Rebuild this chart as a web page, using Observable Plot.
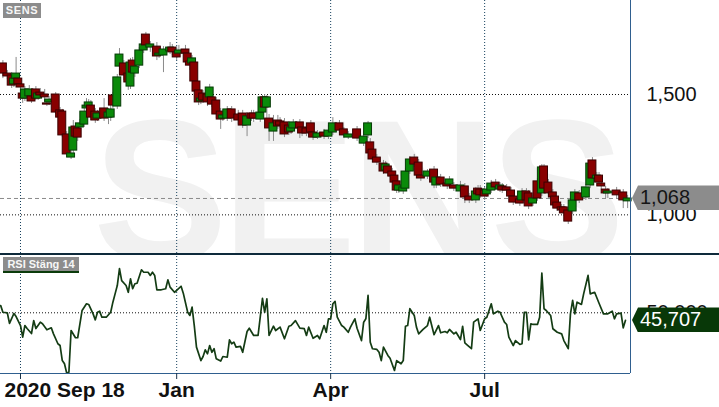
<!DOCTYPE html>
<html>
<head>
<meta charset="utf-8">
<script src="https://cdn.jsdelivr.net/npm/d3@7"></script>
<script src="https://cdn.jsdelivr.net/npm/@observablehq/plot@0.6"></script>
<style>
  html, body { margin: 0; padding: 0; background: #fff; }
  #wrap { position: relative; width: 719px; height: 407px; overflow: hidden; font-family: "Liberation Sans", Arial, sans-serif; }
  #topbox { position: absolute; left: 0; top: 0; width: 719px; height: 253px; overflow: hidden; }
  #wm { position: absolute; left: 93px; top: 90px; font-size: 202px; line-height: 202px; font-weight: bold; color: #f1f1f1; letter-spacing: -6px; white-space: nowrap; font-family: "Liberation Sans", Arial, sans-serif; }
  #topplot { position: absolute; left: 0; top: 0; }
  #sep { position: absolute; left: 0; top: 253px; width: 719px; height: 2px; background: #0e2a3b; }
  #botbox { position: absolute; left: 0; top: 255px; width: 719px; height: 152px; }
  .tag { position: absolute; background: #8c8c8c; color: #f6f6f6; font-weight: bold; font-size: 11px; text-align: center; box-sizing: border-box; }
  .val { position: absolute; left: 632px; width: 87px; height: 25px; line-height: 25px; font-size: 20px; padding-left: 8px; box-sizing: border-box;
         clip-path: polygon(0 50%, 6px 0, 100% 0, 100% 100%, 6px 100%); }
</style>
</head>
<body>
<div id="wrap">
  <div id="topbox"><div id="wm">SENS</div><div id="topplot"></div></div>
  <div id="sep"></div>
  <div id="botbox"></div>
</div>
<script>
// ---------- data (trading-day index relative to 2020-09-18) ----------
const days = [-8,-6,-4,-3,-2,-1,0,1,2,4, 5,7,8,9,11,12,13,16,18,19, 21,23,24,25,26,27,29,30,31,32, 34,35,38,40,41,42,44,45,47,49,
  50,51,52,54,56,57,59,62,63,65, 68,69,71,72,75,76,77,78,79,80, 81,82,83,85,86,87,89,91,92,94, 96,99,101,103,105,106,109,110,111,112,
  113,115,117,118,120,122,123,124,127,128, 130,132,133,135,138,140,142,145,147,149, 153,156,158,159,160,162,165,166,167,169,
  170,171,172,174,175,177,179,181,182,185, 188,189,191,194,195,197,200,202,204,207, 208,209,211,212,214,216,218,219,221,223,
  224,227,228,230,231,233,235,237,238,240, 242,243,244,246,247,249,251,252,254,257, 259,260,262,263,264,266,267,271,274,276];
const opens = [1.629,1.587,1.579,1.542,1.566,1.566,1.542,1.504,1.483,1.492, 1.492,1.521,1.483,1.508,1.500,1.463,1.467,1.500,1.434,1.429,
  1.334,1.238,1.267,1.367,1.359,1.363,1.375,1.442,1.450,1.454, 1.429,1.400,1.442,1.404,1.404,1.496,1.450,1.616,1.629,1.587,
  1.533,1.641,1.587,1.620,1.683,1.749,1.695,1.699,1.662,1.662, 1.679,1.695,1.675,1.670,1.687,1.670,1.637,1.629,1.633,1.554,
  1.517,1.471,1.504,1.500,1.488,1.488,1.475,1.429,1.400,1.400, 1.438,1.417,1.421,1.371,1.421,1.421,1.396,1.425,1.488,1.446,
  1.400,1.346,1.392,1.388,1.384,1.371,1.346,1.359,1.384,1.363, 1.359,1.380,1.342,1.321,1.342,1.325,1.342,1.380,1.355,1.321,
  1.355,1.296,1.330,1.301,1.271,1.238,1.213,1.184,1.201,1.180, 1.163,1.139,1.101,1.097,1.109,1.180,1.238,1.217,1.163,1.159,
  1.188,1.122,1.155,1.130,1.126,1.122,1.097,1.118,1.076,1.060, 1.109,1.105,1.101,1.085,1.101,1.134,1.105,1.118,1.114,1.101,
  1.076,1.064,1.060,1.097,1.089,1.047,1.139,1.089,1.201,1.134, 1.093,1.076,1.051,1.031,1.031,1.018,1.014,1.060,1.089,1.072,
  1.122,1.226,1.151,1.163,1.130,1.105,1.089,1.101,1.093,1.056];
const highs = [1.641,1.600,1.591,1.579,1.654,1.579,1.558,1.517,1.533,1.537, 1.504,1.533,1.517,1.525,1.521,1.475,1.492,1.508,1.446,1.438,
  1.346,1.267,1.392,1.380,1.371,1.396,1.442,1.483,1.479,1.475, 1.442,1.434,1.483,1.442,1.454,1.508,1.583,1.691,1.641,1.600,
  1.650,1.654,1.633,1.695,1.720,1.758,1.720,1.716,1.691,1.699, 1.716,1.708,1.699,1.704,1.704,1.683,1.650,1.662,1.645,1.566,
  1.533,1.496,1.517,1.512,1.542,1.500,1.488,1.442,1.425,1.450, 1.450,1.434,1.434,1.425,1.434,1.434,1.438,1.496,1.500,1.496,
  1.417,1.413,1.413,1.404,1.400,1.388,1.380,1.396,1.396,1.375, 1.371,1.392,1.355,1.350,1.355,1.371,1.404,1.392,1.363,1.346,
  1.367,1.346,1.388,1.317,1.284,1.251,1.226,1.222,1.213,1.193, 1.176,1.151,1.134,1.126,1.193,1.242,1.251,1.230,1.176,1.188,
  1.201,1.168,1.168,1.143,1.159,1.134,1.139,1.130,1.089,1.114, 1.122,1.122,1.114,1.118,1.143,1.147,1.134,1.130,1.126,1.114,
  1.089,1.076,1.109,1.109,1.101,1.081,1.151,1.209,1.209,1.147, 1.105,1.089,1.064,1.043,1.043,1.031,1.072,1.105,1.101,1.126,
  1.226,1.238,1.176,1.176,1.143,1.118,1.109,1.114,1.105,1.081];
const lows = [1.566,1.562,1.525,1.529,1.558,1.529,1.517,1.463,1.471,1.479, 1.463,1.475,1.475,1.483,1.471,1.450,1.454,1.417,1.392,1.321,
  1.238,1.230,1.255,1.309,1.305,1.350,1.363,1.425,1.434,1.392, 1.380,1.388,1.388,1.375,1.388,1.442,1.438,1.600,1.558,1.517,
  1.521,1.575,1.571,1.608,1.670,1.683,1.675,1.641,1.650,1.591, 1.666,1.662,1.641,1.658,1.654,1.620,1.600,1.616,1.542,1.500,
  1.454,1.458,1.463,1.450,1.475,1.446,1.400,1.355,1.388,1.388, 1.384,1.375,1.359,1.325,1.388,1.384,1.384,1.413,1.434,1.392,
  1.305,1.305,1.355,1.359,1.321,1.330,1.334,1.346,1.317,1.325, 1.325,1.330,1.309,1.313,1.313,1.313,1.330,1.338,1.317,1.313,
  1.305,1.284,1.317,1.242,1.217,1.205,1.168,1.172,1.159,1.147, 1.122,1.089,1.089,1.085,1.097,1.168,1.197,1.151,1.139,1.147,
  1.109,1.109,1.114,1.105,1.114,1.097,1.085,1.047,1.047,1.047, 1.072,1.068,1.060,1.072,1.089,1.101,1.093,1.089,1.089,1.064,
  1.039,1.035,1.047,1.047,1.022,1.035,1.056,1.076,1.097,1.076, 1.060,1.026,1.014,1.006,0.993,0.960,1.002,1.047,1.047,1.060,
  1.109,1.139,1.139,1.122,1.105,1.068,1.068,1.064,1.026,1.026];
const closes = [1.587,1.575,1.537,1.566,1.587,1.542,1.529,1.483,1.521,1.521, 1.471,1.483,1.504,1.496,1.488,1.458,1.479,1.425,1.404,1.330,
  1.251,1.255,1.363,1.325,1.321,1.380,1.429,1.454,1.467,1.404, 1.392,1.421,1.400,1.425,1.438,1.454,1.571,1.666,1.579,1.550,
  1.633,1.591,1.616,1.683,1.708,1.704,1.708,1.658,1.670,1.687, 1.695,1.675,1.654,1.683,1.670,1.633,1.620,1.650,1.554,1.512,
  1.467,1.483,1.475,1.467,1.529,1.458,1.417,1.396,1.413,1.438, 1.400,1.392,1.371,1.409,1.400,1.400,1.425,1.488,1.446,1.488,
  1.359,1.380,1.367,1.371,1.334,1.342,1.363,1.384,1.359,1.338, 1.338,1.342,1.321,1.338,1.325,1.350,1.380,1.350,1.330,1.334,
  1.317,1.325,1.380,1.255,1.230,1.217,1.180,1.209,1.172,1.159, 1.134,1.101,1.122,1.114,1.180,1.230,1.209,1.163,1.151,1.180,
  1.134,1.155,1.126,1.118,1.147,1.109,1.122,1.072,1.060,1.097, 1.085,1.081,1.076,1.105,1.130,1.114,1.122,1.101,1.101,1.076,
  1.051,1.047,1.097,1.060,1.035,1.068,1.068,1.197,1.109,1.089, 1.072,1.039,1.026,1.018,1.006,0.972,1.060,1.093,1.060,1.114,
  1.213,1.151,1.163,1.134,1.118,1.089,1.097,1.081,1.060,1.068];

const rsiDays = [-9,-8,-6,-5,-3,-2,0,1,2,3,5,6,7,9,10,12,14,15,17,18,19,20,21,22,23,25,26,28,30,31,33,34,35,36,37,39,41,42,43,44,
  45,46,48,49,50,51,52,53,55,56,58,59,60,61,62,64,66,67,68,70,71,73,74,76,77,78,79,80,82,83,84,85,86,87,88,89,91,92,94,95,
  96,97,98,100,101,103,104,106,108,110,111,112,113,115,116,118,120,122,123,125,127,129,130,131,133,135,136,138,139,140,
  141,142,143,144,146,147,149,150,152,153,155,156,157,158,159,160,162,163,164,165,167,168,170,171,173,174,175,176,177,179,
  180,181,183,185,186,188,190,191,193,194,195,197,198,200,201,202,203,205,206,208,209,211,212,214,215,217,218,220,221,222,
  224,225,227,228,229,230,231,232,233,235,236,237,238,239,241,242,244,246,247,249,250,251,252,253,255,256,258,259,261,263,
  265,267,269,270,271,273,274,275];
const rsiValues = [54.1,50.3,50.0,44.0,49.6,47.9,42.8,36.2,42.8,41.1,38.3,45.6,41.1,44.7,43.8,40.4,41.5,38.1,32.5,31.5,23.0,21.2,15.9,16.4,40.0,35.9,35.9,51.3,55.1,54.7,49.4,46.0,50.3,50.9,47.5,47.5,50.3,56.0,60.7,65.4,
  74.9,68.2,65.4,61.6,69.2,63.6,66.4,66.7,74.3,72.9,72.9,71.1,72.9,71.1,63.0,63.0,63.6,68.6,64.5,61.6,62.6,65.0,61.1,50.3,48.5,53.2,42.8,30.6,23.0,25.3,29.1,26.8,31.5,27.7,29.7,24.0,22.7,25.3,24.9,34.7,
  32.5,33.4,30.6,31.0,27.7,39.4,41.3,37.2,37.2,58.2,50.3,57.9,37.2,42.4,40.0,41.9,35.3,42.4,42.8,45.6,41.3,41.0,37.2,41.9,35.6,37.2,35.3,42.8,39.0,46.6,
  46.6,55.1,56.4,47.5,42.8,41.9,39.0,41.9,46.6,41.3,34.3,44.7,46.6,59.8,33.4,29.7,29.3,27.7,23.0,30.6,25.9,24.3,17.4,23.0,21.2,23.0,42.4,42.8,52.3,48.5,
  41.9,38.1,40.6,42.8,47.5,37.6,42.8,38.7,39.4,38.7,40.6,38.1,39.0,34.9,42.4,33.0,31.9,29.7,44.7,46.6,40.0,46.6,47.5,55.1,49.4,50.9,50.3,44.7,43.4,36.2,
  31.5,34.3,32.1,32.5,50.3,50.3,34.7,43.8,43.4,43.4,47.5,72.4,52.3,51.3,48.5,41.0,39.0,38.1,34.3,29.7,49.4,57.0,49.4,56.0,54.7,60.7,71.1,60.7,61.6,55.4,
  49.4,49.4,50.9,46.6,49.4,49.8,41.5,45.707];

const tickDays = [0, 71, 141, 211];
const tickLabels = ["2020 Sep 18", "Jan", "Apr", "Jul"];
const priceTicks = [1.0, 1.5];
const rsiTicks = [50];
const xDomain = [-9.09, 277.3];
const priceDomain = [0.8394, 1.8906];
const rsiDomain = [15.7, 81.8];

// ---------- build ----------
const candles = days.map((t, i) => ({t, open: opens[i], high: highs[i], low: lows[i], close: closes[i]}));
const rsi = rsiDays.map((t, i) => ({t, r: rsiValues[i]}));
const ticks = tickDays.map((t, i) => ({t, label: tickLabels[i]}));
const lastClose = closes[closes.length - 1];
const lastRsi = rsiValues[rsiValues.length - 1];

const sv = d3.formatLocale({decimal: ",", thousands: "\u00a0", grouping: [3], currency: ["", ""]}).format(".3f");
const FONT = "'Liberation Sans', Arial, sans-serif";
const GRIDV = "#16405e", BLUE = "#2f5f8f", NAVY = "#17324a";
const UP = "#0a8a0a", UPS = "#063a06", DN = "#880000", DNS = "#3a0000";

const topChart = Plot.plot({
  width: 719, height: 253,
  marginLeft: 0, marginRight: 89, marginTop: 0, marginBottom: 0,
  style: {background: "transparent", fontFamily: FONT, overflow: "visible"},
  x: {domain: xDomain, axis: null, label: null},
  y: {domain: priceDomain, axis: null, label: null},
  color: {type: "identity"},
  marks: [
    Plot.ruleX(tickDays, {stroke: GRIDV, strokeDasharray: "1,2"}),
    Plot.ruleY(priceTicks, {stroke: "#111", strokeDasharray: "1,2"}),
    Plot.ruleY([lastClose], {stroke: "#8a8a8a", strokeDasharray: "4,3"}),
    Plot.ruleX(candles, {x: "t", y1: "low", y2: "high", stroke: "#8a8a8a"}),
    Plot.rect(candles, {
      x1: d => d.t - 1.8, x2: d => d.t + 1.8, y1: "open", y2: "close",
      fill: d => d.close >= d.open ? UP : DN,
      stroke: d => d.close >= d.open ? UPS : DNS, strokeWidth: 1
    }),
    Plot.ruleX([xDomain[1]], {stroke: BLUE}),
    Plot.axisY(priceTicks, {anchor: "right", label: null, tickSize: 0, tickPadding: 16, tickFormat: sv, fontSize: 20, fill: "#111"})
  ]
});
document.getElementById("topplot").appendChild(topChart);

const rsiChart = Plot.plot({
  width: 719, height: 152,
  marginLeft: 0, marginRight: 89, marginTop: 1, marginBottom: 34,
  style: {background: "transparent", fontFamily: FONT, overflow: "visible"},
  x: {domain: xDomain, axis: null, label: null},
  y: {domain: rsiDomain, axis: null, label: null},
  marks: [
    Plot.ruleX(tickDays, {stroke: GRIDV, strokeDasharray: "1,2"}),
    Plot.ruleY(rsiTicks, {stroke: "#111", strokeDasharray: "1,2"}),
    Plot.line(rsi, {x: "t", y: "r", stroke: "#143c14", strokeWidth: 1.7}),
    Plot.ruleY([rsiDomain[0]], {stroke: BLUE}),
    Plot.ruleX([xDomain[1]], {stroke: BLUE}),
    Plot.axisX(tickDays, {anchor: "bottom", label: null, tickSize: 6, tickPadding: 0, tickFormat: () => "", stroke: NAVY}),
    Plot.axisY(rsiTicks, {anchor: "right", label: null, tickSize: 0, tickPadding: 16, tickFormat: sv, fontSize: 20, fill: "#111"}),
    Plot.text(ticks.slice(0, 1), {x: "t", text: "label", frameAnchor: "bottom", lineAnchor: "middle", dy: 17, dx: -16, textAnchor: "start",
      fontSize: 21, fontWeight: "bold", fill: "#111"}),
    Plot.text(ticks.slice(1), {x: "t", text: "label", frameAnchor: "bottom", lineAnchor: "middle", dy: 17,
      fontSize: 21, fontWeight: "bold", fill: "#111"})
  ]
});
document.getElementById("botbox").appendChild(rsiChart);

// ---------- overlay tags ----------
const wrap = document.getElementById("wrap");
function tag(text, left, top, w, h, extra) {
  const d = document.createElement("div");
  d.className = "tag"; d.textContent = text;
  Object.assign(d.style, {left: left + "px", top: top + "px", width: w + "px", height: h + "px", lineHeight: h + "px"}, extra || {});
  wrap.appendChild(d);
}
tag("SENS", 3, 3, 38, 15, {letterSpacing: "0.6px"});
tag("RSI Stäng 14", 3, 257, 76, 16, {borderBottom: "2px solid #0b3b0b", lineHeight: "14px"});

function valueTag(text, y, bg, fg) {
  const d = document.createElement("div");
  d.className = "val"; d.textContent = text;
  Object.assign(d.style, {top: (y - 12.5) + "px", background: bg, color: fg});
  wrap.appendChild(d);
}
valueTag(sv(lastClose), topChart.scale("y").apply(lastClose), "#8c8c8c", "#151515");
valueTag(sv(lastRsi), 255 + rsiChart.scale("y").apply(lastRsi), "#083808", "#ffffff");
</script>
</body>
</html>
